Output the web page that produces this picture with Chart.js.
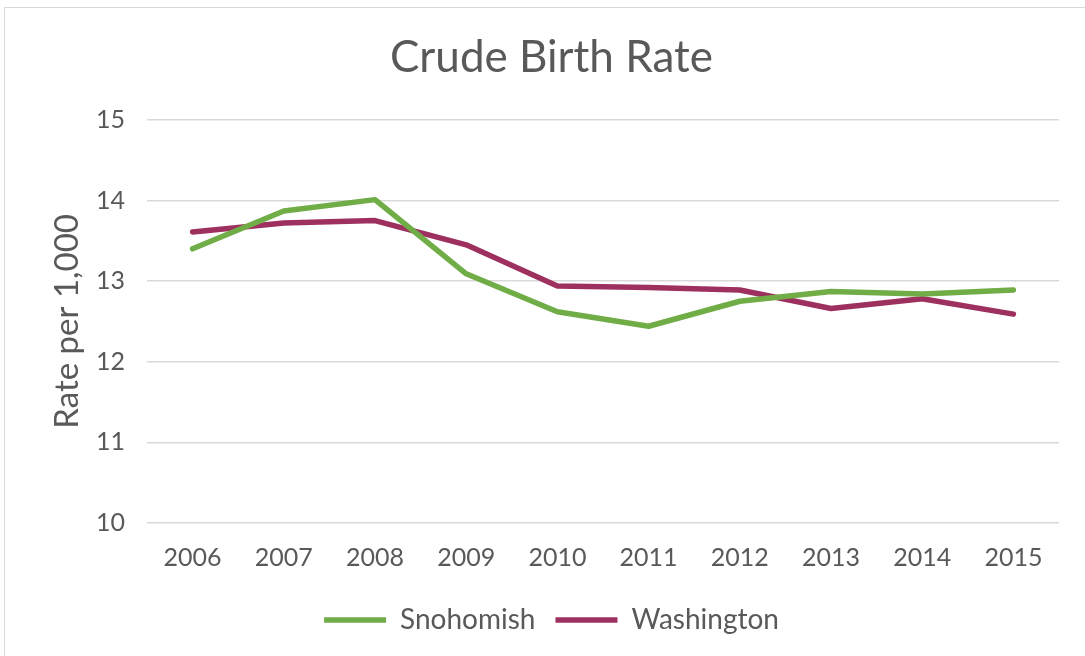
<!DOCTYPE html>
<html><head><meta charset="utf-8">
<script src="https://cdn.jsdelivr.net/npm/chart.js@4/dist/chart.umd.min.js"></script>
<style>
html,body{margin:0;padding:0;background:#fff;}
#wrap{position:absolute;left:0;top:0;width:1085px;height:656px;}
#frame{position:absolute;left:4px;top:7px;width:1100px;height:700px;border:1px solid #d9d9d9;box-sizing:border-box;}
canvas{position:absolute;left:0;top:0;}
</style></head>
<body>
<div id="wrap"><div id="frame"></div><canvas id="c" width="1085" height="656"></canvas></div>
<script>
const years = ['2006','2007','2008','2009','2010','2011','2012','2013','2014','2015'];
const snohomish = [13.40, 13.87, 14.01, 13.09, 12.62, 12.44, 12.75, 12.87, 12.84, 12.89];
const washington = [13.61, 13.72, 13.75, 13.45, 12.94, 12.92, 12.89, 12.66, 12.78, 12.59];
const seriesNames = ['Snohomish', 'Washington'];
const yTicks = [10, 11, 12, 13, 14, 15];

const FONT = "'Lato', 'DejaVu Sans', sans-serif";
const GREY = '#595959';

new Chart(document.getElementById('c'), {
  type: 'line',
  data: {
    labels: years,
    datasets: [
      {label: seriesNames[0], data: snohomish, borderColor: '#70ad47', backgroundColor: '#70ad47',
       borderWidth: 5.5, pointRadius: 0, tension: 0, borderCapStyle: 'round', borderJoinStyle: 'round'},
      {label: seriesNames[1], data: washington, borderColor: '#9e3060', backgroundColor: '#9e3060',
       borderWidth: 5.5, pointRadius: 0, tension: 0, borderCapStyle: 'round', borderJoinStyle: 'round'}
    ]
  },
  options: {
    responsive: false,
    animation: false,
    devicePixelRatio: 1,
    layout: {padding: {left: 44, right: 26, top: 0, bottom: 12}},
    plugins: {
      title: {display: true, text: 'Crude Birth Rate', color: GREY,
        font: {family: FONT, size: 44, weight: 'normal'}, padding: {top: 31, bottom: 36}},
      legend: {position: 'bottom',
        labels: {usePointStyle: true, pointStyle: 'line', pointStyleWidth: 62, color: GREY,
          font: {family: FONT, size: 28}, padding: 20, boxHeight: 5}},
      tooltip: {enabled: false}
    },
    scales: {
      x: {offset: true,
        afterFit: s => { s.height = 63; },
        grid: {display: false, drawTicks: false},
        border: {display: false},
        ticks: {color: GREY, font: {family: FONT, size: 25}, padding: 20, maxRotation: 0}
      },
      y: {min: 10, max: 15,
        afterBuildTicks: s => { s.ticks = yTicks.map(v => ({value: v})); },
        afterFit: s => { s.width = 103; },
        grid: {color: '#d9d9d9', lineWidth: 1.5, drawTicks: false},
        border: {display: false},
        ticks: {color: GREY, font: {family: FONT, size: 25}, padding: 22},
        title: {display: true, text: 'Rate per 1,000', color: GREY, font: {family: FONT, size: 33}, padding: {bottom: 0}}
      }
    }
  }
});
</script>
</body></html>
